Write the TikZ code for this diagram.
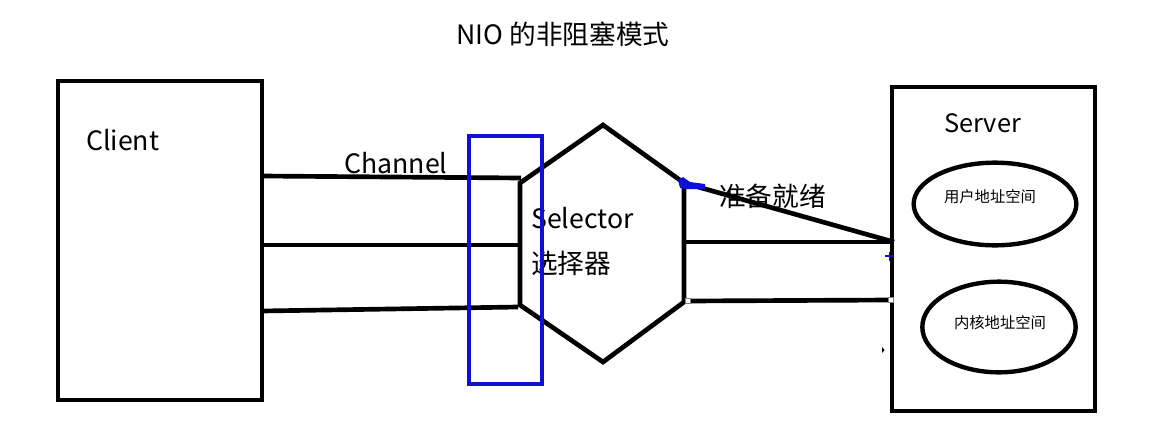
\documentclass[tikz,border=0pt]{standalone}
\usepackage{fontspec}
\setmainfont{Noto Sans CJK SC}
\usetikzlibrary{fit,shapes.geometric}
\definecolor{myblue}{RGB}{16,16,210}
\begin{document}
\begin{tikzpicture}[x=0.75pt,y=-0.75pt,
  box/.style={draw=black,line width=3.5pt,inner sep=0pt,fill=none},
  wire/.style={draw=black,line width=3.5pt},
  bigtxt/.style={font=\fontsize{20}{24}\selectfont,inner sep=0pt,anchor=west},
  smalltxt/.style={font=\fontsize{11.5}{14}\selectfont,inner sep=0pt},
  space/.style={draw=black,line width=3.3pt,ellipse,inner sep=0pt},
  handle/.style={draw=gray,fill=white,line width=0.5pt,minimum size=4pt,inner sep=0pt}]
\useasboundingbox (0,0) rectangle (1172,447);
\fill[white] (0,0) rectangle (1172,447);
% title
\node[font=\fontsize{20}{24}\selectfont,inner sep=0pt] (title) at (563,34) {NIO 的非阻塞模式};
% client and server boxes
\coordinate (c1) at (58,81); \coordinate (c2) at (262,400);
\node[box,fit=(c1)(c2)] (client) {};
\coordinate (s1) at (892,87); \coordinate (s2) at (1095,411);
\node[box,fit=(s1)(s2)] (server) {};
\node[bigtxt] (clientlbl) at (86,140) {Client};
\node[bigtxt,font=\fontsize{19}{23}\selectfont] (serverlbl) at (944,123) {Server};
% selector hexagon
\coordinate (ht) at (603,125);
\coordinate (hur) at (684,183);
\coordinate (hlr) at (684,302);
\coordinate (hb) at (603,362);
\coordinate (hll) at (520,305);
\coordinate (hul) at (520,183);
\draw[wire,line join=miter] (ht) -- (hur) -- (hlr) -- (hb) -- (hll) -- (hul) -- cycle;
\node[bigtxt] (sel) at (531,218) {Selector};
\node[bigtxt] (selcn) at (531,263) {选择器};
% channel wires
\coordinate (a1) at (262,176); \coordinate (b1) at (521,178);
\coordinate (a2) at (262,245); \coordinate (b2) at (518,245);
\coordinate (a3) at (262,311); \coordinate (b3) at (518,307);
\draw[wire] (a1) -- (b1);
\draw[wire] (a2) -- (b2);
\draw[wire] (a3) -- (b3);
\node[bigtxt] (chan) at (344,163) {Channel};
% blue channel frame
\coordinate (r1) at (469,136); \coordinate (r2) at (542,384);
\node[draw=myblue,line width=2.5pt,inner sep=0pt,fit=(r1)(r2)] (frame) {};
% selector to server
\coordinate (sv1) at (894,242);
\coordinate (sl2) at (683,242);
\coordinate (sl3) at (688,301);
\coordinate (sv3) at (891,300);
\draw[wire] (hur) -- (sv1);
\draw[wire] (sl2) -- (sv1);
\draw[wire] (sl3) -- (sv3);
\node[bigtxt] (ready) at (719,196) {准备就绪};
% blue marker
\fill[myblue] (678,180) -- (683,177) -- (690,182) -- (705,184) -- (705,189) -- (686,189) -- (680,188) -- cycle;
% handles and artifacts
\node[handle] (h1) at (688,301) {};
\node[handle] (h2) at (891,300) {};
\draw[myblue,line width=0.8pt] (885,256) -- (894,256) (889.5,251.5) -- (889.5,260.5);
\fill[black] (882,347) -- (884.5,350) -- (882,353) -- cycle;
% address spaces
\node[space,minimum width=122pt,minimum height=62pt] (user) at (995,204) {};
\node[smalltxt] (userlbl) at (990,197) {用户地址空间};
\node[space,minimum width=115pt,minimum height=68pt] (kernel) at (999,327) {};
\node[smalltxt] (kernlbl) at (1000,323) {内核地址空间};
\end{tikzpicture}
\end{document}
